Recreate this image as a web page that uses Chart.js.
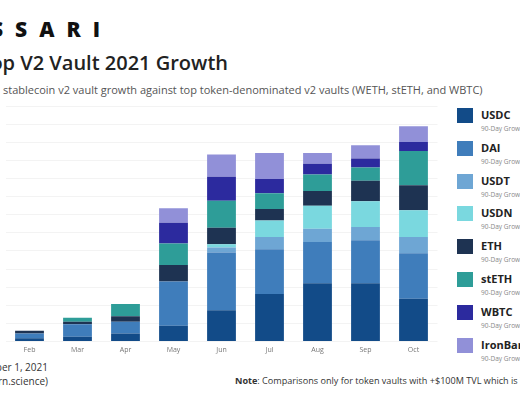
<!DOCTYPE html>
<html>
<head>
<meta charset="utf-8">
<script src="https://cdn.jsdelivr.net/npm/chart.js@4/dist/chart.umd.min.js"></script>
<style>
  html, body { margin:0; padding:0; width:520px; height:400px; overflow:hidden; background:#fff; font-family:"Open Sans", sans-serif; }
  .abs { position:absolute; white-space:nowrap; }
  #logo { left:-400px; width:512px; top:17px; text-align:right; font-family:"Open Sans"; font-weight:800; font-size:21px; letter-spacing:12px; color:#111; line-height:24px; }
  #title { left:-300px; width:528px; top:50px; text-align:right; font-family:"Open Sans"; font-weight:600; font-size:20px; color:#222; line-height:26px; }
  #sub { left:3px; top:82px; font-size:11px; color:#555; line-height:16px; }
  #wrap { position:absolute; left:0; top:0; width:440px; height:360px; }
  #legend { position:absolute; left:457px; top:108px; }
  .item { position:relative; height:32.8px; }
  .sw { position:absolute; left:0; top:0; width:16px; height:15px; }
  .nm { position:absolute; left:24px; top:0px; font-size:11px; font-weight:700; color:#222; line-height:14px; white-space:nowrap; }
  .gr { position:absolute; left:24px; top:16px; font-size:6.5px; color:#888; line-height:9px; white-space:nowrap; }
  .foot { font-size:10px; color:#333; line-height:14px; }
</style>
</head>
<body>
<div id="logo" class="abs">MESSARI</div>
<div id="title" class="abs">Top V2 Vault 2021 Growth</div>
<div id="sub" class="abs">stablecoin v2 vault growth against top token-denominated v2 vaults (WETH, stETH, and WBTC)</div>
<div id="wrap"><canvas id="chart"></canvas></div>
<div id="legend"></div>
<div class="abs foot" style="left:-300px;width:348px;text-align:right;top:360px;">Data as of November 1, 2021</div>
<div class="abs foot" style="left:-300px;width:348px;text-align:right;top:374px;">Source: Yearn (yearn.science)</div>
<div class="abs foot" style="left:235px;top:374px;font-size:9.1px;"><b>Note</b>: Comparisons only for token vaults with +$100M TVL which is 70% of total v2 TVL</div>
<script>
// months shown
var months = ['Feb','Mar','Apr','May','Jun','Jul','Aug','Sep','Oct'];

// vault TVL ($M)
var usdc     = [18, 27, 45,  87, 173, 262, 322, 322, 237];
var dai      = [27, 69, 64, 244, 319, 248, 227, 237, 251];
var usdt     = [ 0,  0,  0,   0,  27,  67,  73,  73,  89];
var usdn     = [ 0,  0,  0,   0,  18,  91, 127, 142, 148];
var eth      = [15, 13, 31,  91,  91,  64,  82, 113, 138];
var steth    = [ 0, 22, 68, 119, 149,  87,  91,  73, 189];
var wbtc     = [ 0,  0,  0, 115, 133,  78,  60,  51,  49];
var ironbank = [ 0,  0,  0,  80, 122, 144,  58,  73,  87];

var names = ['USDC','DAI','USDT','USDN','ETH','stETH','WBTC','IronBank'];
var colors = ['#124b88','#3f7dbb','#6ea6d4','#7ad8df','#1e3352','#2e9d98','#2c2a9e','#9190d8'];
var series = [usdc, dai, usdt, usdn, eth, steth, wbtc, ironbank];

var datasets = series.map(function (s, i) {
    return { label: names[i], data: s, backgroundColor: colors[i], borderWidth: 0 };
});

// legend on the right
var leg = document.getElementById('legend');
names.forEach(function (n, i) {
    var d = document.createElement('div');
    d.className = 'item';
    d.innerHTML = '<div class="sw" style="background:' + colors[i] + '"></div>' +
        '<div class="nm">' + n + '</div><div class="gr">90-Day Growth</div>';
    leg.appendChild(d);
});

var ctx = document.getElementById('chart');
new Chart(ctx, {
    type: 'bar',
    data: { labels: months, datasets: datasets },
    options: {
        responsive: true,
        maintainAspectRatio: false,
        animation: false,
        layout: { padding: { left: 5.5, right: 2.5, top: 106, bottom: 2 } },
        plugins: { legend: { display: false }, tooltip: { enabled: false } },
        datasets: { bar: { barPercentage: 0.6, categoryPercentage: 1 } },
        scales: {
            x: {
                stacked: true,
                grid: { display: false, drawTicks: false },
                border: { display: false },
                ticks: { color: '#777', font: { size: 7, family: 'Open Sans' }, padding: 4 }
            },
            y: {
                stacked: true,
                min: 0,
                max: 1300,
                ticks: { display: false, stepSize: 100 },
                border: { display: false },
                grid: { color: '#f3f3f3', drawTicks: false }
            }
        }
    }
});
</script>
</body>
</html>
